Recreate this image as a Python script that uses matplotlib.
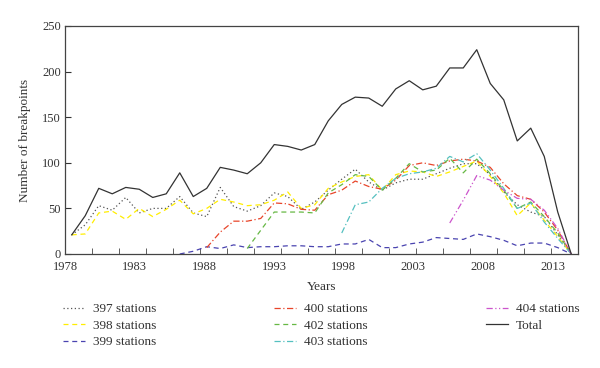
import numpy as np
import matplotlib
matplotlib.use("Agg")
import matplotlib.pyplot as plt

plt.rcParams['font.family'] = ['Liberation Serif', 'DejaVu Serif']

# years 1978 .. 2015
years = np.arange(1978, 2016)
na = np.nan

s397 = [21, 32, 53, 48, 62, 45, 50, 50, 63, 45, 41, 73, 52, 47, 53, 67, 63, 49, 57, 70,
        82, 93, 79, 70, 78, 82, 82, 88, 94, 99, 99, 87, 68, 54, 46, 41, 21, 0]
s398 = [21, 22, 45, 47, 38, 50, 41, 49, 59, 44, 50, 60, 57, 53, 54, 59, 68, 50, 54, 72,
        79, 85, 87, 70, 87, 91, 90, 85, 90, 96, 102, 85, 67, 42, 56, 37, 19, 0]
s399 = [na] * 8 + [0, 3, 8, 6, 10, 7, 8, 8, 9, 9, 8, 8, 11, 11, 16, 7, 7, 11, 13, 18,
                   17, 16, 22, 19, 15, 9, 12, 12, 7, 0]
s400 = [na] * 10 + [7, 24, 36, 36, 39, 56, 55, 49, 48, 65, 70, 80, 74, 71, 81, 97, 100, 97,
                    102, 104, 102, 95, 77, 64, 60, 46, 26, 0]
s402 = [na] * 13 + [6, 26, 46, 46, 46, 45, 67, 76, 87, 85, 70, 83, 99, 90, 92,
                    105, 89, 104, 88, 70, 50, 57, 41, 23, 0]
s403 = [na] * 20 + [23, 54, 57, 72, 83, 88, 90, 94, 107, 101, 110, 92, 72, 50, 56, 35, 17, 0]
s404 = [na] * 28 + [34, 59, 86, 81, 70, 61, 60, 48, 28, 0]
total = [21, 42, 72, 66, 73, 71, 62, 66, 89, 63, 72, 95, 92, 88, 100, 120, 118, 114, 120, 146,
         164, 172, 171, 162, 181, 190, 180, 184, 204, 204, 224, 187, 169, 124, 138, 107, 46, 0]

tick_labels = ['1978', '1983', '1988', '1993', '1998', '2003', '2008', '2013']

fig = plt.figure(figsize=(6, 3.68), dpi=100)
ax = fig.add_axes([65 / 600, 1 - 254 / 368, 513 / 600, 228 / 368])

lw = 0.9
ax.plot(years, s397, color='#555555', ls=(0, (1, 2)), lw=lw, label='397 stations')
ax.plot(years, s398, color='#ffee00', ls=(0, (4, 3)), lw=lw, label='398 stations')
ax.plot(years, s399, color='#4a44b0', ls=(0, (4, 3)), lw=lw, label='399 stations')
ax.plot(years, s400, color='#e8452a', ls=(0, (5, 2, 1, 2)), lw=lw, label='400 stations')
ax.plot(years, s402, color='#66b844', ls=(0, (4, 3)), lw=lw, label='402 stations')
ax.plot(years, s403, color='#55c0c0', ls=(0, (5, 2, 1, 2)), lw=lw, label='403 stations')
ax.plot(years, s404, color='#cc55cc', ls=(0, (5, 2, 1, 2, 1, 2)), lw=lw, label='404 stations')
ax.plot(years, total, color='#333333', ls='-', lw=lw, label='Total')

ax.set_xlim(1977.5, 2015.5)
ax.set_ylim(0, 250)
ax.set_yticks([0, 50, 100, 150, 200, 250])
# labels sit between the 2-year tick marks, as in the original
ax.set_xticks([1977.5 + 5.16 * k for k in range(len(tick_labels))])
ax.set_xticklabels(tick_labels)
ax.set_xticks(np.arange(1977.5, 2016, 2), minor=True)
ax.tick_params(axis='x', which='major', length=0, pad=5, labelsize=9, colors='#333333')
ax.tick_params(axis='x', which='minor', direction='in', length=4, color='#444444')
ax.tick_params(axis='y', direction='in', length=4, labelsize=9, colors='#333333', pad=3)
for sp in ax.spines.values():
    sp.set_color('#444444')
    sp.set_linewidth(0.9)

ax.set_xlabel('Years', fontsize=9.5, color='#333333', labelpad=6)
ax.set_ylabel('Number of breakpoints', fontsize=9.5, color='#333333', labelpad=8)

handles, labels = ax.get_legend_handles_labels()
fig.legend(handles, labels, ncol=3, loc='upper left', bbox_to_anchor=(63 / 600, 1 - 303 / 368),
           frameon=False, fontsize=9.5, borderpad=0, borderaxespad=0, handlelength=1.67,
           handletextpad=0.63, labelspacing=0.33, columnspacing=8.9, labelcolor='#333333')

fig.savefig('out.png', dpi=100)
